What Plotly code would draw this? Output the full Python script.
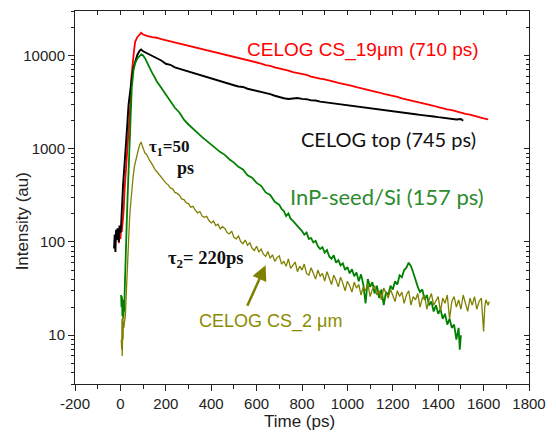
import math
import plotly.graph_objects as go

# ---------------- data (time in ps, intensity in a.u.) ----------------
red_cs19 = [(-7,97),(-3,118),(0,108),(3,135),(6,128),(10,160),(14,210),(19,380),(24,560),(29,860),
    (35,1500),(40,2300),(44,3000),(49,6000),(55,9000),(60,11300),(65,14000),(75,15800),(85,16800),
    (91,17500),(100,16800),(110,16300),(120,16100),(140,15700),(160,15500),(180,15000),(200,14600),
    (220,14100),(240,13800),(260,13400),(280,13100),(300,12600),(320,12450),(340,12000),(360,11750),
    (380,11450),(400,11050),(420,10800),(440,10450),(460,10250),(480,9900),(500,9650),(520,9350),
    (540,9150),(560,8850),(580,8650),(600,8350),(620,8200),(640,7900),(660,7750),(680,7450),
    (700,7300),(720,7050),(740,6900),(760,6650),(780,6500),(800,6300),(820,6200),(840,5950),
    (860,5850),(880,5650),(900,5550),(920,5350),(940,5250),(960,5080),(980,4980),(1000,4830),
    (1020,4720),(1040,4580),(1060,4470),(1080,4330),(1100,4220),(1120,4090),(1140,4010),(1160,3870),
    (1180,3790),(1200,3650),(1220,3590),(1240,3470),(1260,3400),(1280,3290),(1300,3210),(1320,3120),
    (1340,3050),(1360,2950),(1380,2890),(1400,2790),(1420,2740),(1440,2650),(1460,2590),(1480,2500),
    (1500,2450),(1520,2370),(1540,2320),(1560,2240),(1580,2200),(1600,2120),(1620,2070)]

black_top = [(-28,85),(-25,120),(-22,78),(-19,135),(-16,105),(-13,140),(-10,118),(-7,100),(-4,150),
    (0,125),(3,150),(7,270),(12,420),(17,620),(22,860),(28,1500),(36,2970),(44,4600),(50,5700),
    (58,7500),(65,8700),(75,10200),(85,11300),(91,11600),(100,11100),(110,10800),(120,10400),
    (140,9900),(160,9250),(180,8850),(200,8150),(220,7950),(240,7450),(260,7200),(280,6950),
    (300,6650),(320,6500),(340,6300),(360,6050),(380,5900),(400,5600),(420,5450),(440,5300),
    (460,5050),(480,4950),(500,4800),(520,4650),(540,4600),(560,4400),(580,4300),(600,4150),
    (620,4100),(640,3950),(660,3850),(680,3700),(700,3580),(720,3480),(740,3420),(760,3430),
    (780,3500),(800,3430),(820,3400),(840,3300),(860,3290),(880,3200),(900,3150),(920,3110),
    (940,3060),(960,3020),(980,2950),(1000,2930),(1020,2880),(1040,2830),(1060,2800),(1080,2740),
    (1100,2720),(1120,2650),(1140,2630),(1160,2580),(1180,2560),(1200,2490),(1220,2470),(1240,2430),
    (1260,2390),(1280,2370),(1300,2340),(1320,2310),(1340,2290),(1360,2250),(1380,2220),(1400,2180),
    (1420,2150),(1440,2120),(1460,2090),(1480,2060),(1500,2080),(1510,2000)]

green_inp = [(3,27),(5,20),(7,26),(9,16),(11,24),(13,15),(15,21),(17,18),(19,30),(22,72),(28,165),
    (32,320),(36,570),(40,1200),(43,1970),(50,4490),(58,7000),(65,8300),(75,9300),(85,9900),
    (92,10250),(100,10000),(105,9700),(110,9200),(120,8200),(130,7200),(140,6500),(150,5900),
    (160,5300),(180,4500),(200,3800),(220,3200),(240,2750),(260,2450),(280,2050),(300,1820),
    (320,1620),(340,1480),(360,1330),(380,1210),(400,1100),(420,1010),(440,920),(460,860),
    (480,770),(500,710),(520,640),(540,600),(560,520),(580,490),(600,430),(620,400),(640,340),
    (660,320),(680,270),(700,250),(710,226),(720,215),(730,190),(740,203),(750,178),(760,168),
    (770,158),(780,150),(790,140),(800,131),(810,120),(820,126),(830,108),(840,110),(850,99),
    (860,103),(870,90),(880,84),(890,88),(900,77),(910,82),(920,70),(930,66),(940,72),(950,60),
    (960,64),(970,56),(980,59),(990,50),(1000,54),(1010,46),(1020,51),(1030,43),(1040,47),
    (1050,38),(1060,45),(1070,35),(1080,22),(1090,40),(1100,33),(1110,37),(1120,28),(1130,34),
    (1140,25),(1150,31),(1160,21),(1170,29),(1180,27),(1190,34),(1200,31),(1210,38),(1220,35),
    (1230,44),(1240,42),(1250,50),(1260,53),(1270,60),(1280,55),(1290,47),(1300,39),(1310,33),
    (1320,29),(1330,31),(1340,24),(1350,27),(1360,21),(1370,23),(1380,18),(1390,21),(1400,17),
    (1410,19),(1420,15),(1430,17),(1440,13),(1450,15),(1460,12),(1470,13),(1480,9),(1490,12),
    (1495,7),(1500,10)]

olive_cs2 = [(4,9),(5,14),(6,7),(7,15),(8,6),(9,13),(10,8),(11,16),(12,9),(13,14),(15,12),(18,14),
    (22,16),(25,25),(28,40),(32,70),(36,109),(40,170),(43,220),(50,377),(56,500),(62,650),(72,861),
    (80,1000),(86,1120),(91,1180),(95,1100),(100,1030),(104,960),(108,900),(114,880),(122,800),
    (130,740),(137,700),(145,640),(152,600),(160,570),(170,530),(180,490),(190,465),(200,430),
    (210,410),(220,380),(230,372),(240,340),(250,332),(260,318),(270,290),(280,285),(290,262),
    (300,258),(310,236),(320,241),(330,220),(340,205),(350,212),(360,190),(370,184),(380,188),
    (390,170),(400,160),(410,168),(420,150),(430,155),(440,138),(450,146),(460,140),(470,126),
    (480,122),(490,131),(500,112),(510,108),(520,116),(530,101),(540,96),(550,105),(560,92),
    (570,98),(580,86),(590,81),(600,90),(610,78),(620,84),(630,74),(640,70),(650,79),(660,67),
    (670,73),(680,62),(690,68),(700,71),(710,58),(720,62),(730,55),(740,66),(750,52),(760,57),
    (770,61),(780,48),(790,55),(800,50),(810,58),(820,46),(830,44),(840,53),(850,47),(860,40),
    (870,50),(880,43),(890,46),(900,38),(910,48),(920,41),(930,35),(940,44),(950,39),(960,33),
    (970,42),(980,36),(990,30),(1000,38),(1010,34),(1020,29),(1030,37),(1040,32),(1050,35),
    (1060,27),(1070,33),(1080,30),(1090,36),(1100,26),(1110,31),(1120,34),(1130,27),(1140,30),
    (1150,24),(1160,32),(1170,28),(1180,25),(1190,31),(1200,27),(1210,23),(1220,30),(1230,26),
    (1240,29),(1250,22),(1260,27),(1270,30),(1280,21),(1290,26),(1300,24),(1310,28),(1320,20),
    (1330,25),(1340,27),(1350,19),(1360,24),(1370,28),(1380,21),(1390,23),(1400,26),(1410,18),
    (1420,25),(1430,22),(1440,27),(1450,15),(1460,23),(1470,26),(1480,20),(1490,24),(1500,19),
    (1510,27),(1520,22),(1530,18),(1540,25),(1550,21),(1560,26),(1570,19),(1580,23),(1590,25),
    (1600,11),(1605,20),(1610,24),(1620,21),(1625,23)]

x_ticks = [-200, 0, 200, 400, 600, 800, 1000, 1200, 1400, 1600, 1800]
x_tick_text = ["-200", "0", "200", "400", "600", "800", "1000", "1200", "1400", "1600", "1800"]
x_minor = [-100, 100, 300, 500, 700, 900, 1100, 1300, 1500, 1700]
y_ticks = [10, 100, 1000, 10000]
y_tick_text = ["10", "100", "1000", "10000"]
y_minor = [m * 10 ** e for e in range(0, 5) for m in range(2, 10) if 3 <= m * 10 ** e <= 30000]

series = [
    (red_cs19, "#ff0000", 1.8),
    (black_top, "#000000", 1.9),
    (green_inp, "#008000", 1.8),
    (olive_cs2, "#808000", 1.3),
]

fig = go.Figure()
for pts, col, w in series:
    fig.add_trace(go.Scatter(x=[p[0] for p in pts], y=[p[1] for p in pts], mode="lines",
                             line=dict(color=col, width=w), showlegend=False))
# carrier trace for the mirrored (inside-tick) top/right axes
fig.add_trace(go.Scatter(x=[None], y=[None], xaxis="x2", yaxis="y2", showlegend=False, hoverinfo="skip"))

XR = [-200, 1800]
YR = [math.log10(3), math.log10(30000)]
tickfont = dict(family="Liberation Sans, Arial", size=15, color="#222222")

fig.update_layout(
    width=556, height=436,
    margin=dict(l=75, r=19, t=10, b=52),
    paper_bgcolor="white", plot_bgcolor="white",
    xaxis=dict(range=XR, tickmode="array", tickvals=x_ticks, ticktext=x_tick_text, ticks="outside",
               ticklen=6, tickwidth=1, tickcolor="#222", showline=True, linecolor="#222", linewidth=1,
               mirror=True, showgrid=False, zeroline=False, tickfont=tickfont,
               minor=dict(ticks="outside", ticklen=4, tickcolor="#222", tickmode="array",
                          tickvals=x_minor, showgrid=False)),
    yaxis=dict(type="log", range=YR, tickmode="array", tickvals=y_ticks, ticktext=y_tick_text,
               ticks="outside", ticklen=6, tickwidth=1, tickcolor="#222", showline=True,
               linecolor="#222", linewidth=1, mirror=True, showgrid=False, zeroline=False,
               tickfont=tickfont,
               minor=dict(ticks="outside", ticklen=3, tickcolor="#222", tickmode="array",
                          tickvals=y_minor, showgrid=False)),
    xaxis2=dict(range=XR, overlaying="x", side="top", anchor="y", tickmode="array",
                tickvals=sorted(x_ticks[1:-1] + x_minor),
                ticks="inside", ticklen=4, tickcolor="#222", showticklabels=False,
                showline=False, showgrid=False, zeroline=False),
    yaxis2=dict(type="log", range=YR, overlaying="y", side="right", anchor="x", tickmode="array",
                tickvals=y_ticks, ticks="inside", ticklen=5, tickcolor="#222", showticklabels=False,
                showline=False, showgrid=False, zeroline=False,
                minor=dict(ticks="inside", ticklen=3, tickcolor="#222", tickmode="array",
                           tickvals=y_minor, showgrid=False)),
)

# plot-area pixel -> paper helpers (plot area: x 75..537, y 10..384)
def px(x):
    return (x - 75) / (537 - 75)

def py(y):
    return (384 - y) / (384 - 10)

arial = "Liberation Sans, Arial"
ann = [
    dict(text="CELOG CS_19μm (710 ps)", x=px(248), y=py(49), color="#ff0000", family=arial, size=19),
    dict(text="CELOG top (745 ps)", x=px(303), y=py(138), color="#111111", family="Lato", size=20),
    dict(text="InP-seed/Si (157 ps)", x=px(292), y=py(196), color="#2e8b2e", family="Lato", size=22),
    dict(text="<b>τ<sub>1</sub>=50</b>", x=px(148), y=py(147), color="#111111", family="Liberation Serif", size=17),
    dict(text="<b>ps</b>", x=px(177), y=py(167), color="#111111", family="Liberation Serif", size=18),
    dict(text="<b>τ<sub>2</sub>= 220ps</b>", x=px(168), y=py(259), color="#111111", family="Liberation Serif", size=18.5),
    dict(text="CELOG CS_2 μm", x=px(199), y=py(321), color="#8b8b00", family=arial, size=18),
]
for a in ann:
    fig.add_annotation(text=a["text"], x=a["x"], y=a["y"], xref="paper", yref="paper",
                       xanchor="left", yanchor="middle", showarrow=False,
                       font=dict(family=a["family"], size=a["size"], color=a["color"]))

# arrow pointing at the CS_2 µm curve
fig.add_annotation(x=px(269), y=py(265), xref="paper", yref="paper", ax=-19, ay=42,
                   showarrow=True, arrowhead=2, arrowsize=1.2, arrowwidth=2.5,
                   arrowcolor="#808000", text="")

# axis titles
fig.add_annotation(text="Time (ps)", x=px(303), y=py(422), xref="paper", yref="paper",
                   showarrow=False, xanchor="center", yanchor="middle",
                   font=dict(family=arial, size=17, color="#222222"))
fig.add_annotation(text="Intensity (au)", x=px(22), y=py(221), xref="paper", yref="paper",
                   showarrow=False, xanchor="center", yanchor="middle", textangle=-90,
                   font=dict(family=arial, size=17, color="#222222"))

fig.write_html("out.html", config={"displayModeBar": False},
               post_script="document.documentElement.style.margin='0';"
                           "document.body.style.margin='0';document.body.style.padding='0';"
                           "document.body.style.overflow='hidden';")
